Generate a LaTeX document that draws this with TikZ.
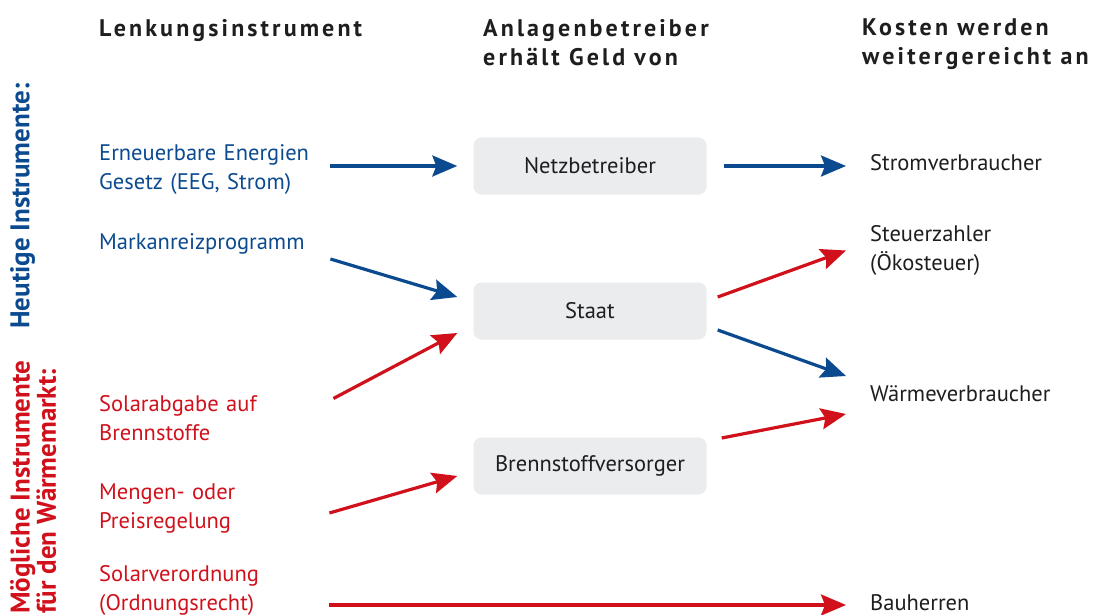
\documentclass[tikz,border=0pt]{standalone}
\usepackage{fontspec}
\setmainfont{PT Sans}
\newfontfamily\kopffont[LetterSpace=13]{PT Sans}
\usepackage{xcolor}
\usetikzlibrary{arrows.meta}
\definecolor{eegblau}{HTML}{0B4A8F}
\definecolor{solarrot}{HTML}{D0111B}
\definecolor{kastengrau}{HTML}{EBECEE}
\definecolor{textgrau}{HTML}{1E1E1E}

\begin{document}
\begin{tikzpicture}[x=1pt, y=-1pt, every 
                          node/.style={inner sep=0pt, 
                          font=\fontsize{22.5}{29}\selectfont},
                          kopf/.style={anchor=north west, align=left, 
                          text=textgrau, 
                          font=\kopffont\bfseries\fontsize{24}{29}\selectfont},
                          seite/.style={anchor=north west, align=left, 
                          rotate=90, 
                          font=\bfseries\fontsize{27}{21}\selectfont},
                          instr/.style={anchor=west, text width=216pt, 
                          align=left},
                          ziel/.style={anchor=west, align=left, 
                          text=textgrau},
                          kasten/.style={fill=kastengrau, rounded corners=8pt, 
                          minimum width=233pt, minimum height=57pt, 
                          text=textgrau},
                          pfeil/.style={line width=3.2pt, 
                          -{Stealth[length=25pt, width=21pt, inset=4pt]}}]
                          \useasboundingbox (0,0) rectangle (1114,615);
                          \node[kopf] (k1) at (99,19) {Lenkungsinstrument};
                          \node[kopf] (k2) at (483,19) 
                          {Anlagenbetreiber\\erhält Geld von};
                          \node[kopf] (k3) at (862,19) 
                          {Kosten werden\\weitergereicht an};
                          \node[seite, text=eegblau] (heute) at (10,329) 
                          {Heutige Instrumente:};
                          \node[seite, text=solarrot] (moeglich) at (10,614) 
                          {Mögliche Instrumente\\für den Wärmemarkt:};
                          \node[instr, text=eegblau] (eeg) at (99,169.5) 
                          {Erneuerbare Energien\\Gesetz (EEG, Strom)};
                          \node[instr, text=eegblau] (anreiz) at (99,244) 
                          {Markanreizprogramm};
                          \node[instr, text=solarrot] (abgabe) at (99,418.5) 
                          {Solarabgabe auf\\Brennstoffe};
                          \node[instr, text=solarrot] (mengen) at (99,508.5) 
                          {Mengen- oder\\Preisregelung};
                          \node[instr, text=solarrot] (verord) at (99,590) 
                          {Solarverordnung\\(Ordnungsrecht)};
                          \foreach \n/\y/\t in {netz/166/Netzbetreiber, 
                          staat/311/Staat, brenn/466/Brennstoffversorger}
                          \node[kasten] (\n) at (590,\y) {\t};
                          \node[ziel] (strom) at (870,163) {Stromverbraucher};
                          \node[ziel] (steuer) at (870,250.5) 
                          {Steuerzahler\\(Ökosteuer)};
                          \node[ziel] (waerme) at (870,394) {Wärmeverbraucher};
                          \node[ziel] (bau) at (870,603) {Bauherren};
                          \draw[pfeil, eegblau] ([xshift=15pt]eeg.east |- netz.west) 
                          -- ([xshift=-16pt]netz.west);
                          \draw[pfeil, eegblau] ([xshift=17pt]netz.east) 
                          -- ([xshift=-24pt]netz.east -| strom.west);
                          \draw[pfeil, eegblau] ([xshift=15pt,yshift=-15pt]anreiz.east) 
                          -- ([xshift=-16pt,yshift=14pt]staat.west);
                          \draw[pfeil, solarrot] ([xshift=11pt,yshift=14pt]staat.east) 
                          -- ([xshift=-24pt]steuer.west);
                          \draw[pfeil, eegblau] ([xshift=11pt,yshift=-19pt]staat.east) 
                          -- ([xshift=-24pt,yshift=18pt]waerme.west);
                          \draw[pfeil, solarrot] ([xshift=18pt,yshift=20pt]abgabe.east) 
                          -- ([xshift=-16pt,yshift=-22pt]staat.west);
                          \draw[pfeil, solarrot] ([xshift=15pt,yshift=28pt]brenn.east) 
                          -- ([xshift=-24pt,yshift=-20pt]waerme.west);
                          \draw[pfeil, solarrot] ([xshift=14pt,yshift=-4.5pt]mengen.east) 
                          -- ([xshift=-16pt,yshift=-10pt]brenn.west);
                          \draw[pfeil, solarrot] ([xshift=14pt,yshift=-15pt]verord.east) 
                          -- ([xshift=-24pt,yshift=-15pt]verord.east -| bau.west);
                      \end{tikzpicture}
\end{document}
